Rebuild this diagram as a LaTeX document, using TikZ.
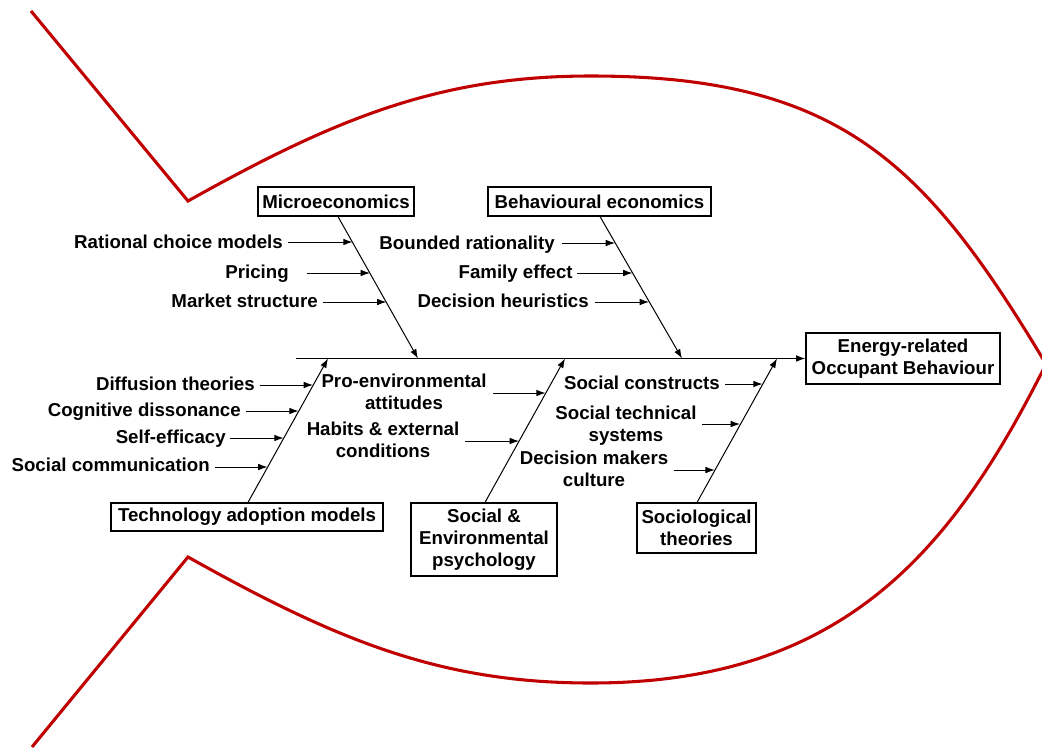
\documentclass[tikz,border=0pt]{standalone}
\usepackage{fontspec}
\setmainfont{Liberation Sans}
\usetikzlibrary{arrows.meta}
\definecolor{fishred}{RGB}{192,0,0}
\begin{document}
\begin{tikzpicture}[x=0.75pt,y=-0.75pt,
  lbl/.style={font=\bfseries\fontsize{14}{16.5}\selectfont, inner sep=0pt, align=center},
  catbox/.style={lbl, draw, line width=0.9pt, fill=white},
  bone/.style={line width=0.75pt, -{Latex[length=7pt,width=5pt]}},
  fish/.style={draw=fishred, line width=2.3pt, line join=miter}]
\useasboundingbox (0,0) rectangle (1042,747);

% fish outline: tail and body
\draw[fish] (31,11) -- (188,201)
  .. controls (338,117) and (441,76) .. (591,76)
  .. controls (841,76) and (926,164) .. (1046,364)
  .. controls (951,554) and (841,683) .. (591,683)
  .. controls (441,683) and (338,641) .. (188,557) -- (32,747);

% effect and category boxes
\node[catbox, minimum width=145.5pt, minimum height=38.25pt] (effect) at (903,358.5)
  {Energy-related\\Occupant Behaviour};
\node[catbox, minimum width=117pt, minimum height=21.75pt] (micro) at (336,201.5) {Microeconomics};
\node[catbox, minimum width=167.25pt, minimum height=21.75pt] (behav) at (599.5,201.5) {Behavioural economics};
\node[catbox, minimum width=204pt, minimum height=21pt] (tech) at (247,517) {Technology adoption models};
\node[catbox, minimum width=109.5pt, minimum height=54.75pt] (psych) at (484,539.5) {Social \&\\Environmental\\psychology};
\node[catbox, minimum width=89.25pt, minimum height=37.5pt] (socio) at (696.5,528) {Sociological\\theories};

% spine and bone ends
\coordinate (spineStart) at (296,358.5);
\coordinate (microEnd) at (418,358.5);
\coordinate (behavEnd) at (682,358.5);
\coordinate (techEnd) at (328,358.5);
\coordinate (psychEnd) at (565,358.5);
\coordinate (socioEnd) at (777,358.5);
\draw[bone] (spineStart) -- (effect.west);

% main bones
\draw[bone] ([xshift=1.5pt]micro.south) -- (microEnd);
\draw[bone] ([xshift=0.4pt]behav.south) -- (behavEnd);
\draw[bone] ([xshift=0.75pt]tech.north) -- (techEnd);
\draw[bone] ([xshift=0.75pt]psych.north) -- (psychEnd);
\draw[bone] ([xshift=0.4pt]socio.north) -- (socioEnd);

% causes: microeconomics
\node[lbl, anchor=base east] (rcm) at (283,248.6) {Rational choice models};
\node[lbl, anchor=base east] (pri) at (289,278.6) {Pricing};
\node[lbl, anchor=base east] (mst) at (318,307.6) {Market structure};
\coordinate (rcmA) at (288,242); \coordinate (rcmB) at (352.6,242);
\coordinate (priA) at (307,273); \coordinate (priB) at (370,273);
\coordinate (mstA) at (323,302); \coordinate (mstB) at (386.4,302);
\draw[bone] (rcmA) -- (rcmB);
\draw[bone] (priA) -- (priB);
\draw[bone] (mstA) -- (mstB);

% causes: behavioural economics
\node[lbl, anchor=base east] (bra) at (555,249.6) {Bounded rationality};
\node[lbl, anchor=base east] (fam) at (573,278.6) {Family effect};
\node[lbl, anchor=base east] (dhe) at (589,307.6) {Decision heuristics};
\coordinate (braA) at (562,243); \coordinate (braB) at (615,243);
\coordinate (famA) at (577,273); \coordinate (famB) at (632.5,273);
\coordinate (dheA) at (595,302); \coordinate (dheB) at (649,302);
\draw[bone] (braA) -- (braB);
\draw[bone] (famA) -- (famB);
\draw[bone] (dheA) -- (dheB);

% causes: technology adoption models
\node[lbl, anchor=base east] (dif) at (255,390.6) {Diffusion theories};
\node[lbl, anchor=base east] (cog) at (241,416.6) {Cognitive dissonance};
\node[lbl, anchor=base east] (sef) at (226,443.6) {Self-efficacy};
\node[lbl, anchor=base east] (scm) at (210,471.6) {Social communication};
\coordinate (difA) at (260,385); \coordinate (difB) at (313,385);
\coordinate (cogA) at (246,411); \coordinate (cogB) at (298.6,411);
\coordinate (sefA) at (230,438); \coordinate (sefB) at (283.6,438);
\coordinate (scmA) at (215,467); \coordinate (scmB) at (267.5,467);
\draw[bone] (difA) -- (difB);
\draw[bone] (cogA) -- (cogB);
\draw[bone] (sefA) -- (sefB);
\draw[bone] (scmA) -- (scmB);

% causes: social & environmental psychology
\node[lbl] (pea) at (404,392) {Pro-environmental\\attitudes};
\node[lbl] (hab) at (383,440) {Habits \& external\\conditions};
\coordinate (peaA) at (493,393); \coordinate (peaB) at (545.6,393);
\coordinate (habA) at (465,441); \coordinate (habB) at (519,441);
\draw[bone] (peaA) -- (peaB);
\draw[bone] (habA) -- (habB);

% causes: sociological theories
\node[lbl, anchor=base east] (sco) at (720,389.6) {Social constructs};
\node[lbl] (sts) at (626,425.5) {Social technical\\systems};
\node[lbl] (dmc) at (594,468.5) {Decision makers\\culture};
\coordinate (scoA) at (725,384); \coordinate (scoB) at (762.6,384);
\coordinate (stsA) at (702,424); \coordinate (stsB) at (740,424);
\coordinate (dmcA) at (674,470); \coordinate (dmcB) at (714.8,470);
\draw[bone] (scoA) -- (scoB);
\draw[bone] (stsA) -- (stsB);
\draw[bone] (dmcA) -- (dmcB);
\end{tikzpicture}
\end{document}
